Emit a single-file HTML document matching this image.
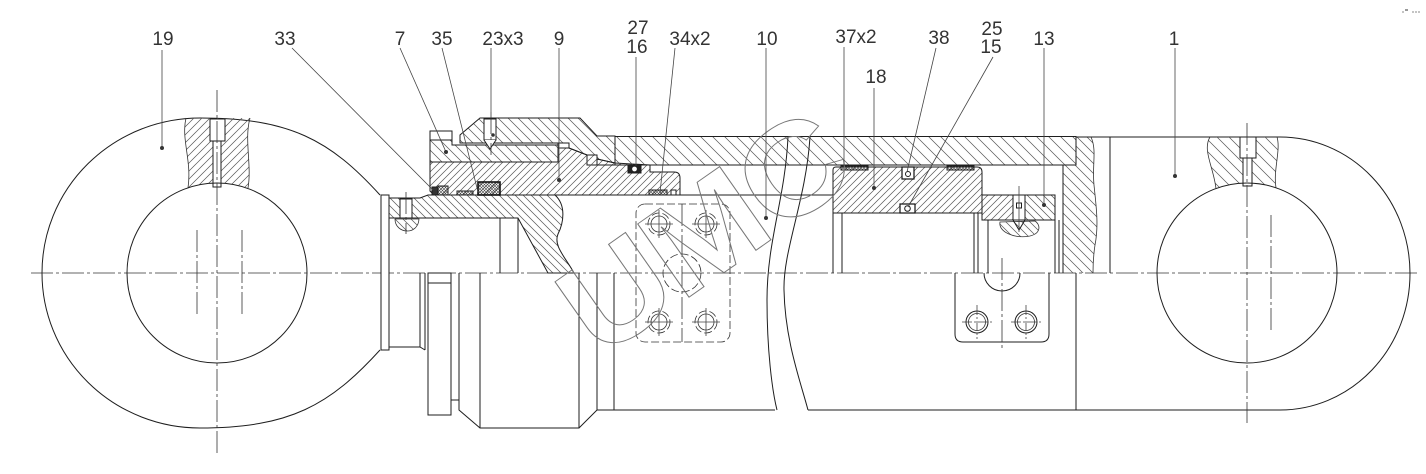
<!DOCTYPE html>
<html><head><meta charset="utf-8">
<style>
html,body{margin:0;padding:0;background:#fff;}
svg{display:block;}
.lb{font-family:"Liberation Sans",sans-serif;font-size:19px;fill:#333;text-anchor:middle;}
.o{fill:none;stroke:#1e1e1e;stroke-width:1;}
.t{fill:none;stroke:#333;stroke-width:0.8;}
.ld{fill:none;stroke:#444;stroke-width:0.8;}
.cl{fill:none;stroke:#333;stroke-width:0.8;stroke-dasharray:22 3 3 3;}
.dh{fill:none;stroke:#333;stroke-width:0.8;stroke-dasharray:8 3;}
</style></head><body>
<svg width="1426" height="474" viewBox="0 0 1426 474" xmlns="http://www.w3.org/2000/svg">
<defs>
<pattern id="f7" width="7" height="7" patternUnits="userSpaceOnUse"><path d="M0,7 L7,0 M-1,1 L1,-1 M6,8 L8,6" stroke="#555" stroke-width="0.7"/></pattern>
<pattern id="f8" width="8" height="8" patternUnits="userSpaceOnUse"><path d="M0,8 L8,0 M-1,1 L1,-1 M7,9 L9,7" stroke="#555" stroke-width="0.7"/></pattern>
<pattern id="b8" width="8" height="8" patternUnits="userSpaceOnUse"><path d="M0,0 L8,8 M-1,7 L1,9 M7,-1 L9,1" stroke="#555" stroke-width="0.7"/></pattern>
<pattern id="b10" width="10" height="10" patternUnits="userSpaceOnUse"><path d="M0,0 L10,10 M-1,9 L1,11 M9,-1 L11,1" stroke="#555" stroke-width="0.7"/></pattern>
<pattern id="b12" width="12" height="12" patternUnits="userSpaceOnUse"><path d="M0,0 L12,12 M-1,11 L1,13 M11,-1 L13,1" stroke="#555" stroke-width="0.7"/></pattern>
<pattern id="mesh" width="3" height="3" patternUnits="userSpaceOnUse"><path d="M0,3 L3,0 M0,0 L3,3" stroke="#444" stroke-width="0.6"/></pattern>
</defs>

<line class="cl" x1="31" y1="273" x2="1418" y2="273"/>

<!-- LEFT EYE -->
<path class="o" d="M380,195 C330,140 290,118 200,118 A158,155 0 0 0 200,428 C290,428 330,405 380,350"/>
<path d="M186,118 C181,140 192,160 188,188 A90,90 0 0 1 248,188 C252,165 244,140 250,118 Z" style="fill:url(#f8)"/>
<path class="t" d="M186,118 C181,140 192,160 188,188 M248,188 C252,165 244,140 250,118"/>
<rect x="213" y="141" width="8" height="46" class="o" style="fill:#fff"/>
<rect x="210" y="119" width="15" height="22" class="o" style="fill:#fff"/>
<circle cx="217" cy="273" r="90" class="o"/>
<line class="cl" x1="217" y1="90" x2="217" y2="455"/>
<line class="cl" x1="197" y1="230" x2="197" y2="315"/>
<line class="cl" x1="242" y1="230" x2="242" y2="315"/>

<!-- flange / rod end -->
<rect x="381" y="195" width="8" height="155" class="o" style="fill:#fff"/>
<path d="M389,198 L420,198 L428,195 L555,195 C566,205 564,222 558,234 C553,246 566,258 574,273 L548,273 L518,218 L389,218 Z" class="o" style="fill:url(#b8)"/>
<rect x="400" y="199" width="12" height="19" class="o" style="fill:#fff"/>
<path d="M395,219 C395,234 418,236 419,219 Z" class="t" style="fill:url(#b8)"/>
<line x1="406" y1="192" x2="406" y2="234" class="cl"/>
<path class="o" d="M500,218 L500,273 M518,218 L518,273"/>

<!-- part 7 -->
<path d="M430,140 L452,140 L452,145 L558,145 L558,162 L430,162 Z" class="o" style="fill:url(#b10)"/>
<rect x="430" y="131" width="22" height="9" class="o" style="fill:#fff"/>
<!-- head -->
<path d="M460,143 L460,135 L480,118 L580,118 L597,136 L615,136 L615,163 L597,159 L597,155 L587,155 L569,148 L558,148 L558,143 Z" class="o" style="fill:url(#b10)"/>
<rect x="558" y="143" width="11" height="5" class="o" style="fill:#fff"/>
<rect x="587" y="155" width="10" height="10" class="o" style="fill:#fff"/>
<rect x="484" y="119" width="12" height="21" class="o" style="fill:#fff"/>
<path d="M484,140 L490,149 L496,140" class="o" style="fill:#fff"/>
<line x1="491" y1="112" x2="491" y2="155" class="cl"/>
<!-- part 9 -->
<path d="M430,162 L558,162 L558,148 L569,148 L587,155 L597,155 L597,159 L615,163 L650,165 L650,172 L674,172 Q680,172 680,178 L680,195 L434,195 L430,191 Z" class="o" style="fill:url(#f7)"/>
<!-- tube -->
<rect x="615" y="136.5" width="461" height="28.5" class="o" style="fill:url(#b12)"/>
<line class="o" x1="597" y1="165" x2="1063" y2="165"/>

<!-- seals left -->
<rect x="432" y="187" width="6" height="8" class="o" style="fill:#333"/>
<rect x="438" y="186" width="10" height="9" class="o" style="fill:url(#mesh)"/>
<rect x="457" y="191" width="16" height="4" class="o" style="fill:url(#mesh)"/>
<rect x="478" y="182" width="22" height="13" style="fill:url(#mesh);stroke:#111;stroke-width:1.6"/>
<rect x="628" y="165" width="13" height="8" class="o" style="fill:#222"/>
<circle cx="634.5" cy="169" r="2.8" style="fill:#fff;stroke:#222;stroke-width:0.8"/>
<rect x="649" y="190" width="18" height="5" class="o" style="fill:url(#mesh)"/>
<rect x="671" y="190" width="5" height="5" class="o" style="fill:#fff"/>

<line class="o" x1="680" y1="195" x2="833" y2="195"/>

<!-- piston -->
<path d="M836,167 L977,167 Q982,167 982,172 L982,213 L833,213 L833,170 Q833,167 836,167 Z" class="o" style="fill:url(#f7)"/>
<rect x="841" y="166" width="27" height="4" class="o" style="fill:url(#mesh)"/>
<rect x="947" y="166" width="27" height="4" class="o" style="fill:url(#mesh)"/>
<rect x="902" y="167" width="12" height="12" style="fill:#fff;stroke:#111;stroke-width:1.2"/>
<circle cx="908" cy="174" r="2.5" class="o"/>
<rect x="900" y="204" width="15" height="9" style="fill:#fff;stroke:#111;stroke-width:1.2"/>
<circle cx="907.5" cy="208.5" r="2.8" class="o"/>
<path class="o" d="M833,213 L833,273 M842,213 L842,273 M974,213 L974,273 M978,213 L978,273 M988,220 L988,273 M1055,220 L1055,273 M1059,220 L1059,273"/>

<!-- nut 13 -->
<rect x="982" y="195" width="31" height="25" class="o" style="fill:url(#f7)"/>
<rect x="1025" y="195" width="30" height="25" class="o" style="fill:url(#b8)"/>
<rect x="1013" y="195" width="12" height="25" class="o" style="fill:#fff"/>
<rect x="1016.5" y="203" width="5" height="5" class="o" style="fill:#fff"/>
<path d="M1000,222 C998,232 1015,239 1030,236 C1042,233 1040,224 1035,221 Z" class="t" style="fill:url(#b8)"/>
<path class="o" d="M1013,220 L1019,230 L1025,220"/>
<line x1="1019" y1="186" x2="1019" y2="232" class="ld"/>

<!-- end cap -->
<path d="M1063,165 L1076,165 L1076,137 L1091,137 C1097,150 1092,165 1094,185 C1096,205 1099,225 1095,245 C1093,258 1093,265 1093,273 L1063,273 Z" style="fill:url(#b10)"/>
<path class="o" d="M1063,165 L1076,165 L1076,137 M1063,165 L1063,273"/>
<path class="t" d="M1091,137 C1097,150 1092,165 1094,185 C1096,205 1099,225 1095,245 C1093,258 1093,265 1093,273"/>
<line class="o" x1="1110" y1="137" x2="1110" y2="273"/>

<!-- RIGHT EYE -->
<path class="o" d="M1076,137 L1280,137 A130,136.5 0 0 1 1280,410 L808,410"/>
<path d="M1210,137 C1202,150 1214,168 1216,189 A90,90 0 0 1 1276,188 C1273,170 1281,150 1277,137 Z" style="fill:url(#b12)"/>
<path class="t" d="M1210,137 C1202,150 1214,168 1216,189 M1276,188 C1273,170 1281,150 1277,137"/>
<rect x="1243" y="158" width="9" height="28" class="o" style="fill:#fff"/>
<rect x="1240" y="137" width="16" height="21" class="o" style="fill:#fff"/>
<circle cx="1247" cy="273" r="90" class="o"/>
<line class="cl" x1="1247" y1="123" x2="1247" y2="423"/>
<line class="cl" x1="1271" y1="215" x2="1271" y2="330"/>
<line class="o" x1="1076" y1="273" x2="1076" y2="410"/>

<!-- lower half left -->
<path class="o" d="M389,347 L420,347 L425,350 M420,273 L420,347 M425,273 L425,350"/>
<rect x="428" y="273" width="23" height="142" class="o"/>
<line class="o" x1="428" y1="283" x2="451" y2="283"/>
<path class="o" d="M451,400 L459,400 M459,273 L459,410 L480,428 L579,428 L597,410 L775,410 M480,273 L480,428 M579,273 L579,428 M597,273 L597,410 M614,273 L614,410"/>

<!-- break lines -->
<path class="o" d="M788,137 C785,200 767,240 767,300 C767,350 772,390 777,410"/>
<path class="o" d="M810,137 C806,200 783,250 784,290 C785,340 800,380 808,410"/>

<!-- hidden feature on rod -->
<rect x="636" y="204" width="94" height="138" rx="9" class="dh"/>
<line class="cl" x1="682" y1="204" x2="682" y2="342"/>
<circle cx="682" cy="273" r="19" class="dh"/>
<circle cx="659" cy="224" r="8" class="t"/><circle cx="659" cy="224" r="11" class="dh"/>
<path class="ld" d="M645,224 L673,224 M659,210 L659,238"/>
<circle cx="706" cy="224" r="8" class="t"/><circle cx="706" cy="224" r="11" class="dh"/>
<path class="ld" d="M692,224 L720,224 M706,210 L706,238"/>
<circle cx="659" cy="322" r="8" class="t"/><circle cx="659" cy="322" r="11" class="dh"/>
<path class="ld" d="M645,322 L673,322 M659,308 L659,336"/>
<circle cx="706" cy="322" r="8" class="t"/><circle cx="706" cy="322" r="11" class="dh"/>
<path class="ld" d="M692,322 L720,322 M706,308 L706,336"/>

<!-- lug -->
<path class="o" d="M955,273 L955,334 Q955,342 963,342 L1041,342 Q1049,342 1049,334 L1049,273"/>
<path class="o" d="M984,273 A18,18 0 0 0 1020,273"/>
<circle cx="977" cy="322" r="11" class="o"/><circle cx="977" cy="322" r="8.5" class="t"/>
<circle cx="1026" cy="322" r="11" class="o"/><circle cx="1026" cy="322" r="8.5" class="t"/>
<path class="ld" stroke-dasharray="10 2 2 2" d="M962,322 L992,322 M977,305 L977,339 M1011,322 L1041,322 M1026,305 L1026,339"/>
<line class="cl" x1="1002" y1="258" x2="1002" y2="350"/>

<!-- watermark -->
<g transform="translate(703,230) rotate(-35) scale(1.1,1)">
<text x="-1.5" y="47" text-anchor="middle" style="font-family:'Liberation Sans',sans-serif;font-weight:bold;font-size:130px;fill:none;stroke:#777;stroke-width:0.95;letter-spacing:-3px">UMC</text>
</g>

<!-- leaders -->
<g class="ld">
<line x1="162" y1="50" x2="162" y2="148"/>
<line x1="292" y1="48" x2="433" y2="190"/>
<line x1="400" y1="48" x2="446" y2="152"/>
<line x1="442" y1="48" x2="478" y2="192"/>
<line x1="491" y1="48" x2="491" y2="112"/>
<line x1="559" y1="48" x2="559" y2="180"/>
<line x1="636" y1="57" x2="636" y2="166"/>
<line x1="675" y1="48" x2="660" y2="193"/>
<line x1="766" y1="48" x2="766" y2="218"/>
<line x1="844" y1="47" x2="844" y2="166"/>
<line x1="874" y1="88" x2="874" y2="188"/>
<line x1="936" y1="48" x2="907" y2="172"/>
<line x1="993" y1="57" x2="908" y2="207"/>
<line x1="1044" y1="48" x2="1044" y2="205"/>
<line x1="1175" y1="48" x2="1175" y2="176"/>
</g>
<g style="fill:#333">
<circle cx="162" cy="148" r="2"/>
<circle cx="446" cy="152" r="2"/>
<circle cx="493" cy="135" r="1.8"/>
<circle cx="559" cy="180" r="2"/>
<circle cx="766" cy="218" r="2"/>
<circle cx="874" cy="188" r="2"/>
<circle cx="1044" cy="205" r="2"/>
<circle cx="1175" cy="176" r="2"/>
</g>

<text class="lb" x="163" y="45">19</text>
<text class="lb" x="285" y="45">33</text>
<text class="lb" x="400" y="45">7</text>
<text class="lb" x="442" y="45">35</text>
<text class="lb" x="503" y="45">23x3</text>
<text class="lb" x="559" y="45">9</text>
<text class="lb" x="638" y="34">27</text>
<text class="lb" x="637" y="53">16</text>
<text class="lb" x="690" y="45">34x2</text>
<text class="lb" x="767" y="45">10</text>
<text class="lb" x="856" y="43">37x2</text>
<text class="lb" x="876" y="83">18</text>
<text class="lb" x="939" y="44">38</text>
<text class="lb" x="992" y="35">25</text>
<text class="lb" x="991" y="53">15</text>
<text class="lb" x="1044" y="45">13</text>
<text class="lb" x="1174" y="45">1</text>

<g style="fill:#999"><circle cx="1403" cy="12" r="0.9"/><rect x="1405" y="9" width="3" height="2"/><circle cx="1413" cy="12" r="0.9"/><circle cx="1416" cy="12" r="0.9"/><circle cx="1419" cy="12" r="0.9"/></g>
</svg>
</body></html>
